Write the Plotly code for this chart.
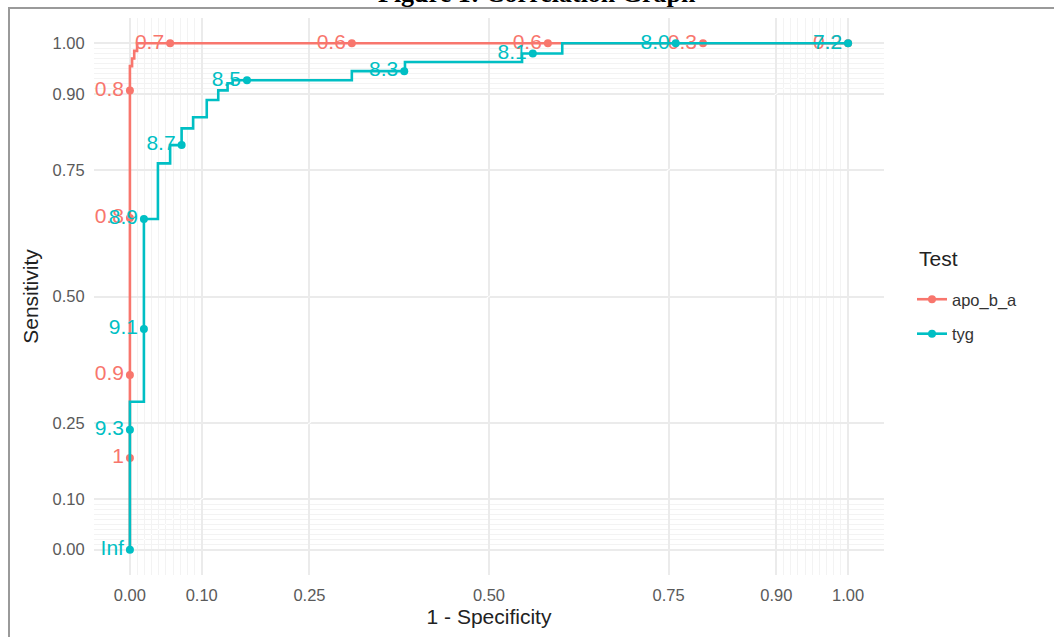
import plotly.graph_objects as go

# ---- data ----
series_names = ["apo_b_a", "tyg"]
series_colors = ["#F8766D", "#00BFC4"]

# ROC paths (1 - specificity, sensitivity)
apo_fpr = [0, 0, 0.003, 0.003, 0.006, 0.006, 0.010, 0.010, 1.0]
apo_tpr = [0, 0.955, 0.955, 0.970, 0.970, 0.985, 0.985, 1.0, 1.0]

tyg_fpr = [0, 0, 0.0195, 0.0195, 0.039, 0.039, 0.056, 0.056, 0.072, 0.072, 0.088, 0.088,
           0.107, 0.107, 0.123, 0.123, 0.136, 0.136, 0.143, 0.143, 0.309, 0.309,
           0.383, 0.383, 0.546, 0.546, 0.602, 0.602, 1.0]
tyg_tpr = [0, 0.292, 0.292, 0.653, 0.653, 0.763, 0.763, 0.799, 0.799, 0.832, 0.832, 0.854,
           0.854, 0.888, 0.888, 0.907, 0.907, 0.921, 0.921, 0.927, 0.927, 0.945,
           0.945, 0.963, 0.963, 0.980, 0.980, 1.0, 1.0]

# labelled cut-off points
apo_cut_fpr = [0, 0, 0, 0, 0.056, 0.309, 0.582, 0.798, 1.0]
apo_cut_tpr = [0.181, 0.345, 0.655, 0.907, 1.0, 1.0, 1.0, 1.0, 1.0]
apo_cut_lab = ["1", "0.9", "0.8", "0.8", "0.7", "0.6", "0.6", "0.3", "0.2"]

tyg_cut_fpr = [0, 0, 0.0195, 0.0195, 0.072, 0.163, 0.382, 0.561, 0.760, 1.0]
tyg_cut_tpr = [0, 0.237, 0.436, 0.653, 0.799, 0.927, 0.945, 0.980, 1.0, 1.0]
tyg_cut_lab = ["Inf", "9.3", "9.1", "8.9", "8.7", "8.5", "8.3", "8.1", "8.0", "7.2"]

major_ticks = [0, 0.10, 0.25, 0.50, 0.75, 0.90, 1.00]
major_labels = ["0.00", "0.10", "0.25", "0.50", "0.75", "0.90", "1.00"]
minor_ticks = [round(0.01 * i, 2) for i in range(1, 10)] + [round(0.9 + 0.01 * i, 2) for i in range(1, 10)]

title_text = "Figure 1: Correlation Graph"
x_title = "1 - Specificity"
y_title = "Sensitivity"
legend_title = "Test"

paths = [(apo_fpr, apo_tpr), (tyg_fpr, tyg_tpr)]
cuts = [(apo_cut_fpr, apo_cut_tpr, apo_cut_lab), (tyg_cut_fpr, tyg_cut_tpr, tyg_cut_lab)]

# ---- figure ----
fig = go.Figure()

# reference diagonal
fig.add_trace(go.Scatter(x=[0, 1], y=[0, 1], mode="lines",
                         line=dict(color="#FFFFFF", width=1), showlegend=False, hoverinfo="skip"))

FONT = "Liberation Sans, Arial, sans-serif"

for name, col, (px, py), (cx, cy, cl) in zip(series_names, series_colors, paths, cuts):
    fig.add_trace(go.Scatter(x=px, y=py, mode="lines", line=dict(color=col, width=2.6),
                             showlegend=False, legendgroup=name))
    fig.add_trace(go.Scatter(x=cx, y=cy, mode="markers+text", text=cl,
                             textposition="middle left",
                             textfont=dict(color=col, size=21, family=FONT),
                             marker=dict(color=col, size=8),
                             showlegend=False, legendgroup=name))
    fig.add_trace(go.Scatter(x=[None], y=[None], mode="lines+markers", name=name,
                             line=dict(color=col, width=2.6), marker=dict(color=col, size=8),
                             legendgroup=name))

axis_common = dict(
    range=[-0.05, 1.05], automargin=False,
    tickmode="array", tickvals=major_ticks, ticktext=major_labels,
    showgrid=True, gridcolor="#EBEBEB", gridwidth=2.2,
    zeroline=False, showline=False,
    ticks="outside", ticklen=5, tickcolor="rgba(0,0,0,0)",
    tickfont=dict(size=16.5, color="#5A5A5A", family=FONT),
    minor=dict(tickmode="array", tickvals=minor_ticks, showgrid=True,
               gridcolor="#F3F3F3", gridwidth=1.1, ticks=""),
)

fig.update_xaxes(**axis_common, title=dict(text=x_title, font=dict(size=21, color="#222222", family=FONT), standoff=6))
fig.update_yaxes(**axis_common, title=dict(text=y_title, font=dict(size=21, color="#222222", family=FONT), standoff=8))

L, R, T, B = 94, 170, 18, 62
PW, PH = 1054 - L - R, 637 - T - B


def px_x(p):
    return (p - L) / PW


def px_y(p):
    return (637 - B - p) / PH


fig.update_layout(
    width=1054, height=637,
    margin=dict(l=L, r=R, t=T, b=B),
    plot_bgcolor="#FFFFFF", paper_bgcolor="#FFFFFF",
    font=dict(family=FONT),
    legend=dict(font=dict(size=16.5, color="#333333"),
                x=px_x(912), xanchor="left", y=px_y(282), yanchor="top",
                bgcolor="rgba(0,0,0,0)", itemwidth=30, tracegroupgap=10),
    annotations=[
        dict(text="<b>" + title_text + "</b>", x=px_x(537), y=px_y(-23), xref="paper", yref="paper",
             xanchor="center", yanchor="top", showarrow=False,
             font=dict(size=26, color="#000000", family="Liberation Serif, Times New Roman, serif")),
        dict(text=legend_title, x=px_x(917), y=px_y(258), xref="paper", yref="paper",
             xanchor="left", yanchor="middle", showarrow=False,
             font=dict(size=21, color="#222222", family=FONT)),
    ],
    shapes=[
        dict(type="line", xref="paper", yref="paper", x0=px_x(8), x1=px_x(1060), y0=px_y(8), y1=px_y(8),
             line=dict(color="#9A9A9A", width=2)),
        dict(type="line", xref="paper", yref="paper", x0=px_x(9), x1=px_x(9), y0=px_y(8), y1=px_y(645),
             line=dict(color="#9A9A9A", width=2)),
    ],
)

fig.write_html("out.html", config={"displayModeBar": False},
               post_script="document.body.style.margin='0px';")
